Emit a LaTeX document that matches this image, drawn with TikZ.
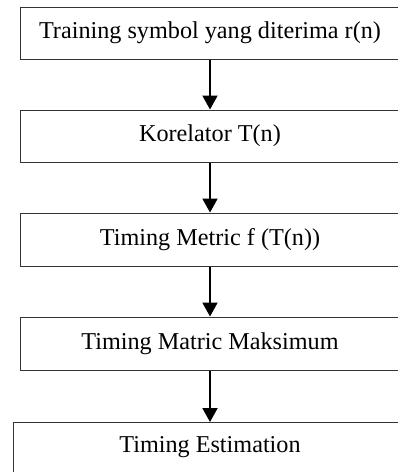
\documentclass[tikz,border=0pt]{standalone}
\usepackage{fontspec}
\setmainfont{Liberation Serif}
\usetikzlibrary{arrows.meta}
\begin{document}
\begin{tikzpicture}[x=1pt,y=-1pt,
  steptext/.style={font=\fontsize{24.2}{29}\selectfont},
  stepbox/.style={steptext, draw=black!80, line width=1pt, rectangle,
    minimum width=380pt, minimum height=52pt, inner sep=0pt},
  flow/.style={line width=2pt, -{Triangle[width=15pt,length=14pt]}}]
  \useasboundingbox (0,0) rectangle (398,472);
  \clip (0,0) rectangle (398,472);
  % process steps, top to bottom
  \node[stepbox] (b1) at (210,33) {Training symbol yang diterima r(n)};
  \node[stepbox] (b2) at (210,136) {Korelator T(n)};
  \node[stepbox, minimum height=53pt] (b3) at (210,239.5) {Timing Metric f (T(n))};
  \node[stepbox, minimum height=53pt] (b4) at (210,343.5) {Timing Matric Maksimum};
  % last step runs past the lower edge
  \node[stepbox, minimum width=394pt, minimum height=90pt, anchor=north] (b5) at (210,422) {};
  \node[steptext] (b5text) at (210,447) {Timing Estimation};
  % connectors
  \draw[flow] (b1.south) -- (b2.north);
  \draw[flow] (b2.south) -- (b3.north);
  \draw[flow] (b3.south) -- (b4.north);
  \draw[flow] (b4.south) -- (b5.north);
\end{tikzpicture}
\end{document}
